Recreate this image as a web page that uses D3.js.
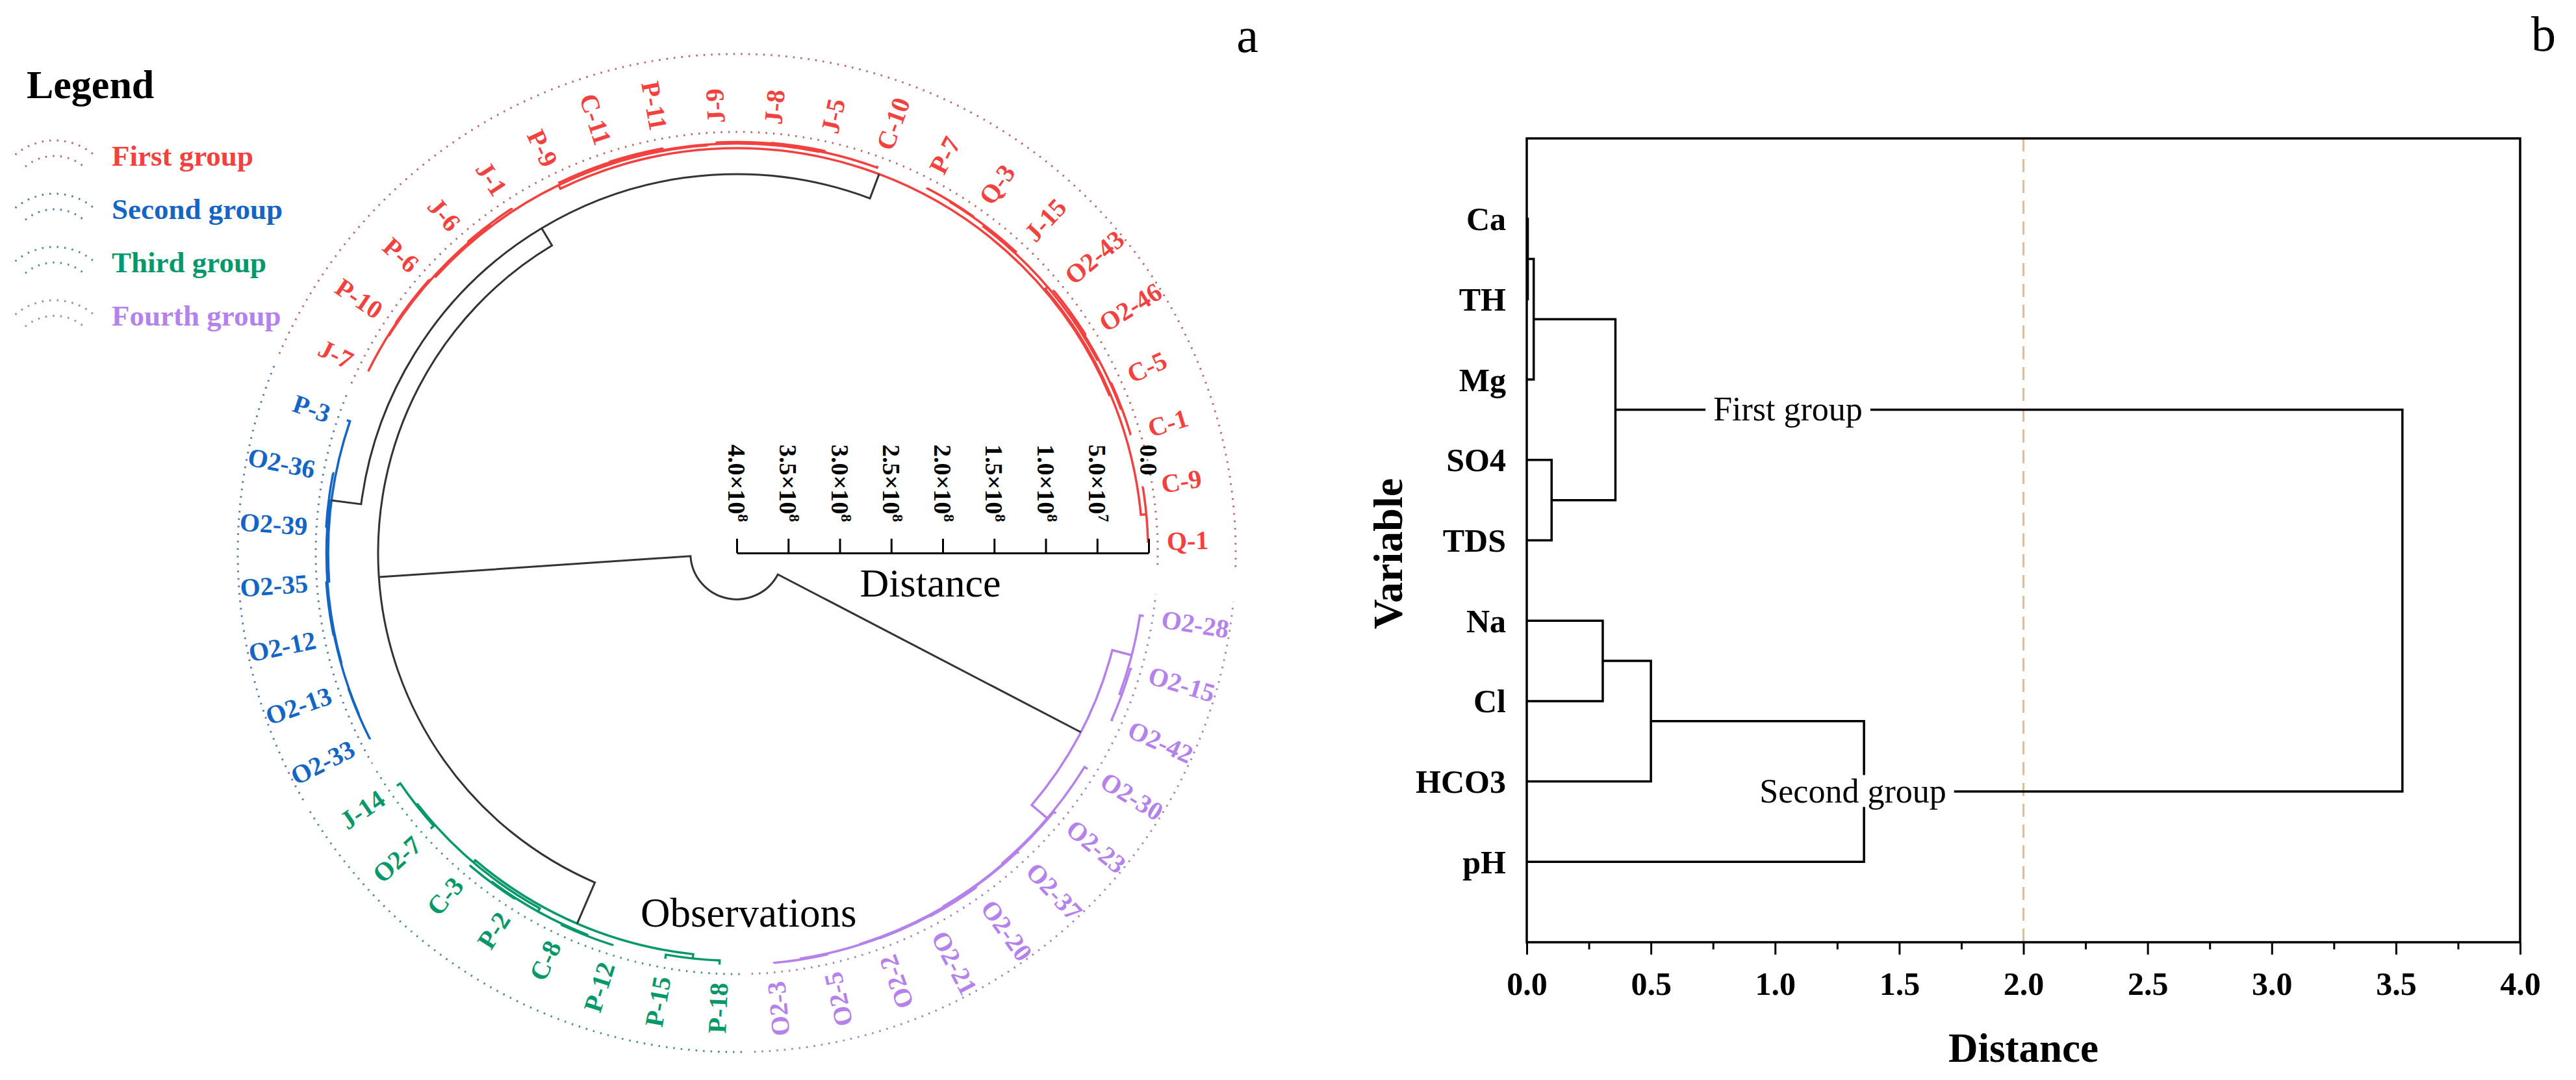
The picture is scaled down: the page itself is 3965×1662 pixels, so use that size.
<!DOCTYPE html>
<html>
<head>
<meta charset="utf-8">
<script src="https://cdn.jsdelivr.net/npm/d3@7"></script>
<style>
  body { margin: 0; background: #fff; }
  text { font-family: 'Liberation Serif', 'Times New Roman', serif; }
</style>
</head>
<body>
<div id="chart"></div>
<script>
// ---------- Data: panel a (observations, counterclockwise from the scale bar) ----------
const firstGroup = ['Q-1', 'C-9', 'C-1', 'C-5', 'O2-46', 'O2-43', 'J-15', 'Q-3', 'P-7', 'C-10', 'J-5',
  'J-8', 'J-9', 'P-11', 'C-11', 'P-9', 'J-1', 'J-6', 'P-6', 'P-10', 'J-7']
const secondGroup = ['P-3', 'O2-36', 'O2-39', 'O2-35', 'O2-12', 'O2-13', 'O2-33']
const thirdGroup = ['J-14', 'O2-7', 'C-3', 'P-2', 'C-8', 'P-12', 'P-15', 'P-18']
const fourthGroup = ['O2-3', 'O2-5', 'O2-2', 'O2-21', 'O2-20', 'O2-37', 'O2-23', 'O2-30', 'O2-42', 'O2-15', 'O2-28']

const groupNames = ['First group', 'Second group', 'Third group', 'Fourth group']
const groupColors = ['#f2413f', '#1565c4', '#06976a', '#b482ea']

// merges: [node, left, right, distance]
const obsMerges = [
  ['r1', 'Q-1', 'C-9', 0.5e6],
  ['r2', 'C-1', 'C-5', 0.6e6],
  ['r3', 'O2-46', 'O2-43', 0.4e6],
  ['r4', 'r2', 'r3', 1.6e6],
  ['r5', 'Q-3', 'P-7', 0.5e6],
  ['r6', 'J-15', 'r5', 1.2e6],
  ['r7', 'r4', 'r6', 2.8e6],
  ['r8', 'r1', 'r7', 5.8e6],
  ['r9', 'J-5', 'J-8', 0.5e6],
  ['r10', 'r9', 'J-9', 1.0e6],
  ['r11', 'C-10', 'r10', 1.8e6],
  ['r12', 'P-11', 'C-11', 0.6e6],
  ['r13', 'r12', 'P-9', 1.2e6],
  ['r14', 'r11', 'r13', 2.4e6],
  ['r15', 'J-1', 'J-6', 0.6e6],
  ['r16', 'P-6', 'P-10', 0.5e6],
  ['r17', 'r16', 'J-7', 1.0e6],
  ['r18', 'r15', 'r17', 1.7e6],
  ['r19', 'r14', 'r18', 3.2e6],
  ['red', 'r8', 'r19', 7.0e6],
  ['b1', 'O2-36', 'O2-39', 0.5e6],
  ['b2', 'O2-35', 'O2-12', 0.4e6],
  ['b3', 'O2-13', 'O2-33', 0.6e6],
  ['b4', 'b2', 'b3', 1.0e6],
  ['b5', 'b1', 'b4', 1.6e6],
  ['blue', 'P-3', 'b5', 3.2e6],
  ['g1', 'J-14', 'O2-7', 4.0e6],
  ['g2', 'C-3', 'P-2', 1.0e6],
  ['g3', 'C-8', 'P-12', 0.8e6],
  ['g4', 'g2', 'g3', 2.0e6],
  ['g5', 'g1', 'g4', 5.5e6],
  ['g6', 'P-15', 'P-18', 4.0e6],
  ['green', 'g5', 'g6', 8.2e6],
  ['p1', 'O2-3', 'O2-5', 0.4e6],
  ['p2', 'O2-21', 'O2-20', 0.5e6],
  ['p3', 'O2-2', 'p2', 0.9e6],
  ['p4', 'p1', 'p3', 1.4e6],
  ['p5', 'O2-37', 'p4', 1.9e6],
  ['p6', 'O2-23', 'p5', 2.6e6],
  ['p7', 'O2-30', 'p6', 3.5e6],
  ['p8', 'O2-42', 'O2-15', 1.5e6],
  ['p9', 'p8', 'O2-28', 3.8e6],
  ['purple', 'p7', 'p9', 2.33e7],
  ['A', 'red', 'blue', 3.22e7],
  ['B', 'A', 'green', 5.17e7],
  ['root', 'B', 'purple', 3.55e8]
]
const obsTicks = [0, 5e7, 1e8, 1.5e8, 2e8, 2.5e8, 3e8, 3.5e8, 4e8]

// ---------- Data: panel b (variables) ----------
const variables = ['Ca', 'TH', 'Mg', 'SO4', 'TDS', 'Na', 'Cl', 'HCO3', 'pH']
const varMerges = [
  ['v1', 'Ca', 'TH', 0.004],
  ['v2', 'v1', 'Mg', 0.028],
  ['v3', 'SO4', 'TDS', 0.10],
  ['v4', 'v2', 'v3', 0.357],
  ['v5', 'Na', 'Cl', 0.306],
  ['v6', 'v5', 'HCO3', 0.50],
  ['v7', 'v6', 'pH', 1.358],
  ['v8', 'v4', 'v7', 3.526]
]
const varGroupLabels = [['v4', 'First group'], ['v7', 'Second group']]
const cutDistance = 2.0
const varTicks = [0, 0.5, 1, 1.5, 2, 2.5, 3, 3.5, 4]

// ---------- Canvas ----------
const width = 3965
const height = 1662
const svg = d3.select('#chart').append('svg')
  .attr('width', width)
  .attr('height', height)
svg.append('rect').attr('width', width).attr('height', height).attr('fill', '#fff')

const dark = '#333'
const rad = (deg) => deg * Math.PI / 180

// ================= Panel a =================
const cx = 1134
const cy = 851
const groups = [firstGroup, secondGroup, thirdGroup, fourthGroup]
const leaves = groups.flatMap((g, gi) => g.map(name => ({ name, group: gi })))

const angleScale = d3.scaleLinear().domain([0, leaves.length - 1]).range([1.6, 1.6 + 7.6 * (leaves.length - 1)])
const rScale = d3.scaleLinear().domain([0, 4e8]).range([634, 0])
const step = angleScale(1) - angleScale(0)

const pt = (phi, r) => [cx + r * Math.cos(rad(phi)), cy - r * Math.sin(rad(phi))]

const nodes = new Map()
leaves.forEach((d, i) => nodes.set(d.name, { angle: angleScale(i), h: 0, group: d.group }))
obsMerges.forEach(([id, a, b, h]) => {
  const na = nodes.get(a)
  const nb = nodes.get(b)
  nodes.set(id, {
    angle: (na.angle + nb.angle) / 2,
    h,
    group: na.group === nb.group ? na.group : null,
    kids: [na, nb]
  })
})

const pa = svg.append('g')

// dotted group rings
const ringR = [648, 768]
groups.forEach((g, gi) => {
  const first = leaves.findIndex(d => d.group === gi)
  const a0 = angleScale(first) - step / 2 + 0.6
  const a1 = angleScale(first + g.length - 1) + step / 2 - 0.6
  ringR.forEach(r => {
    const p = d3.path()
    p.arc(cx, cy, r, -rad(a0), -rad(a1), true)
    pa.append('path')
      .attr('d', p.toString())
      .attr('fill', 'none')
      .attr('stroke', d3.interpolateRgb(groupColors[gi], '#8a8a8a')(0.55))
      .attr('stroke-width', 3)
      .attr('stroke-dasharray', '2.5 9')
  })
})

// dendrogram links
obsMerges.forEach(([id]) => {
  const n = nodes.get(id)
  const [ka, kb] = n.kids
  const rn = rScale(n.h)
  const p = d3.path()
  p.moveTo(...pt(ka.angle, rScale(ka.h)))
  p.lineTo(...pt(ka.angle, rn))
  p.arc(cx, cy, rn, -rad(ka.angle), -rad(kb.angle), ka.angle < kb.angle)
  p.lineTo(...pt(kb.angle, rScale(kb.h)))
  pa.append('path')
    .attr('d', p.toString())
    .attr('fill', 'none')
    .attr('stroke', n.group === null ? dark : groupColors[n.group])
    .attr('stroke-width', n.group === null ? 3 : 3.5)
})

// leaf labels (labels in the left part read from outside in)
leaves.forEach((d, i) => {
  const phi = angleScale(i)
  const flip = phi > 96 && phi < 294
  pa.append('text')
    .attr('transform', `rotate(${-phi}, ${cx}, ${cy}) translate(${cx + 662}, ${cy})` + (flip ? ' rotate(180)' : ''))
    .attr('text-anchor', flip ? 'end' : 'start')
    .attr('dy', '0.35em')
    .attr('font-size', 40)
    .attr('font-weight', 'bold')
    .attr('fill', groupColors[d.group])
    .text(d.name)
})

// distance scale bar
const axisScale = d3.scaleLinear().domain([0, 4e8]).range([cx + rScale(0), cx + rScale(4e8)])
const axisG = pa.append('g')
  .attr('transform', `translate(0, ${cy})`)
  .call(d3.axisTop(axisScale).tickValues(obsTicks).tickSize(22).tickSizeOuter(0).tickFormat(''))
axisG.select('.domain').attr('stroke-width', 3)
axisG.selectAll('.tick line').attr('stroke-width', 3)
axisG.selectAll('.tick').each(function (v) {
  const t = d3.select(this).append('text')
    .attr('transform', 'translate(0, -167) rotate(90)')
    .attr('text-anchor', 'start')
    .attr('dy', '0.35em')
    .attr('font-size', 38)
    .attr('font-weight', 'bold')
    .attr('fill', '#000')
  if (v === 0) {
    t.text('0.0')
  } else {
    const e = Math.floor(Math.log10(v))
    t.append('tspan').text((v / Math.pow(10, e)).toFixed(1) + '×10')
    t.append('tspan').attr('dy', -15).attr('font-size', 24).text(e)
  }
})
pa.append('text').attr('x', 1432).attr('y', 918).attr('text-anchor', 'middle')
  .attr('font-size', 62).text('Distance')
pa.append('text').attr('x', 986).attr('y', 1426)
  .attr('font-size', 63).text('Observations')

// legend
pa.append('text').attr('x', 41).attr('y', 151).attr('font-size', 62).attr('font-weight', 'bold').text('Legend')
groupNames.forEach((name, gi) => {
  const y0 = 255 + gi * 82
  const lc = 84
  const ly = y0 + 55
  ;[94, 70].forEach(r => {
    const p = d3.path()
    p.arc(lc, ly, r, rad(-130), rad(-50), false)
    pa.append('path').attr('d', p.toString()).attr('fill', 'none')
      .attr('stroke', d3.interpolateRgb(groupColors[gi], '#8a8a8a')(0.55))
      .attr('stroke-width', 3).attr('stroke-dasharray', '2.5 9')
  })
  pa.append('text').attr('x', 172).attr('y', y0)
    .attr('font-size', 45).attr('font-weight', 'bold')
    .attr('fill', groupColors[gi]).text(name)
})
pa.append('text').attr('x', 1920).attr('y', 80).attr('text-anchor', 'middle').attr('font-size', 76).text('a')

// ================= Panel b =================
const pb = svg.append('g')
const x = d3.scaleLinear().domain([0, 4]).range([2350, 3879])
const y = d3.scaleLinear().domain([0, variables.length + 1]).range([213, 1450])

const vnodes = new Map()
variables.forEach((v, i) => vnodes.set(v, { h: 0, y: y(i + 1) }))
varMerges.forEach(([id, a, b, h]) => {
  const na = vnodes.get(a)
  const nb = vnodes.get(b)
  vnodes.set(id, { h, y: (na.y + nb.y) / 2, kids: [na, nb] })
})

// cut line
pb.append('line')
  .attr('x1', x(cutDistance)).attr('x2', x(cutDistance))
  .attr('y1', y.range()[0]).attr('y2', y.range()[1])
  .attr('stroke', '#e9b98a').attr('stroke-width', 3).attr('stroke-dasharray', '20 12')

varMerges.forEach(([id]) => {
  const n = vnodes.get(id)
  const [ka, kb] = n.kids
  pb.append('path')
    .attr('d', `M${x(ka.h)},${ka.y}H${x(n.h)}V${kb.y}H${x(kb.h)}`)
    .attr('fill', 'none')
    .attr('stroke', '#000')
    .attr('stroke-width', 3.5)
})

// group labels with white background on the branch
varGroupLabels.forEach(([id, label], i) => {
  const n = vnodes.get(id)
  const lx = i === 0 ? 2752 : 2852
  const t = pb.append('text').attr('x', lx).attr('y', n.y).attr('dy', '0.32em')
    .attr('text-anchor', 'middle').attr('font-size', 52).text(label)
  const bb = t.node().getBBox()
  pb.insert('rect', () => t.node())
    .attr('x', bb.x - 12).attr('y', bb.y + 4).attr('width', bb.width + 24).attr('height', bb.height - 8)
    .attr('fill', '#fff')
})

// frame and axes
pb.append('rect')
  .attr('x', x.range()[0]).attr('y', y.range()[0])
  .attr('width', x.range()[1] - x.range()[0]).attr('height', y.range()[1] - y.range()[0])
  .attr('fill', 'none').attr('stroke', '#000').attr('stroke-width', 3.5)

const minor = pb.append('g').attr('transform', `translate(0, ${y.range()[1]})`)
  .call(d3.axisBottom(x).tickValues(d3.range(0.25, 4, 0.5)).tickSize(11).tickSizeOuter(0).tickFormat(''))
minor.select('.domain').remove()
minor.selectAll('line').attr('stroke-width', 3)

const xAxis = pb.append('g').attr('transform', `translate(0, ${y.range()[1]})`)
  .call(d3.axisBottom(x).tickValues(varTicks).tickSize(19).tickPadding(26).tickSizeOuter(0).tickFormat(d3.format('.1f')))
xAxis.select('.domain').remove()
xAxis.selectAll('line').attr('stroke-width', 3)
xAxis.selectAll('text')
  .attr('font-size', 50).attr('font-weight', 'bold').attr('fill', '#000')
  .attr('font-family', "'Liberation Serif', serif")

pb.selectAll('.var-label')
  .data(variables)
  .join('text')
  .attr('class', 'var-label')
  .attr('x', 2318)
  .attr('y', (d, i) => y(i + 1))
  .attr('dy', '0.35em')
  .attr('text-anchor', 'end')
  .attr('font-size', 50)
  .attr('font-weight', 'bold')
  .text(d => d)

pb.append('text').attr('x', (x.range()[0] + x.range()[1]) / 2).attr('y', 1634)
  .attr('text-anchor', 'middle').attr('font-size', 63).attr('font-weight', 'bold').text('Distance')
pb.append('text').attr('transform', 'translate(2158, 852) rotate(-90)')
  .attr('text-anchor', 'middle').attr('font-size', 64).attr('font-weight', 'bold').text('Variable')
pb.append('text').attr('x', 3915).attr('y', 78).attr('text-anchor', 'middle').attr('font-size', 76).text('b')
</script>
</body>
</html>
